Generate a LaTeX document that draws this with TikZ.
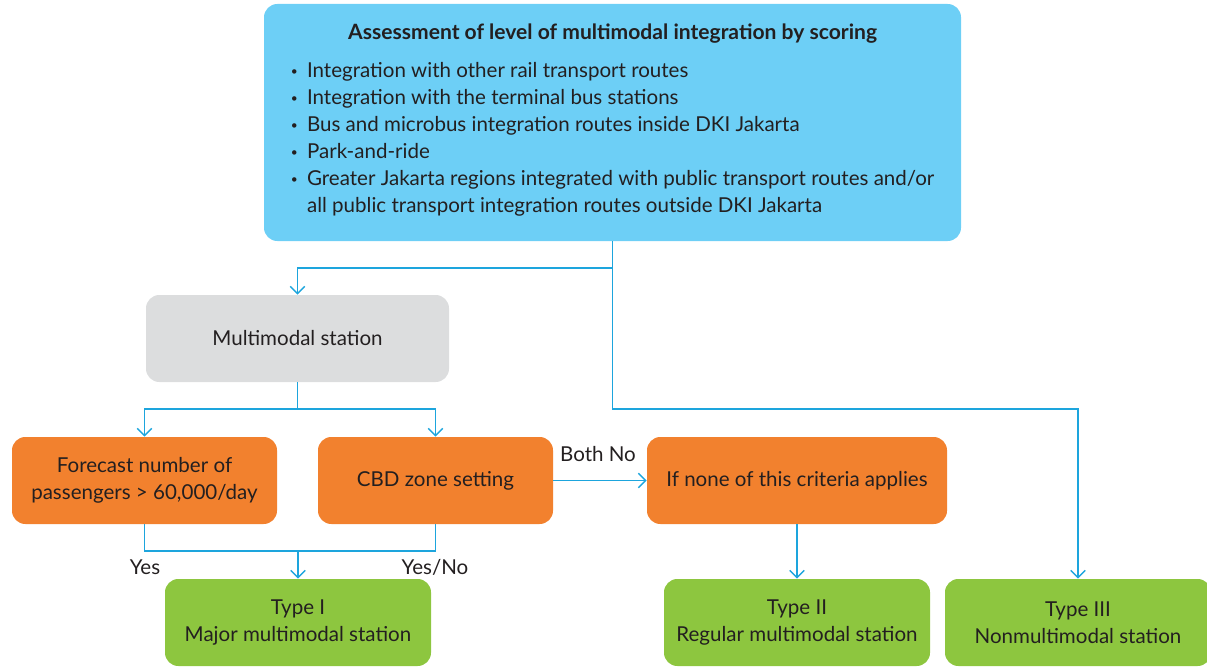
\documentclass[tikz,border=0pt]{standalone}
\usepackage{fontspec}
\setmainfont{Lato}
\usetikzlibrary{arrows.meta, positioning}
\definecolor{skyfill}{HTML}{6DCFF6}
\definecolor{greyfill}{HTML}{DCDDDE}
\definecolor{orangefill}{HTML}{F2812E}
\definecolor{greenfill}{HTML}{8DC63F}
\definecolor{wire}{HTML}{1DA5DD}
\definecolor{ink}{HTML}{231F20}
\newcommand{\dotitem}{\raisebox{1.5pt}{\fontsize{9}{9}\selectfont\textbullet}}
\begin{document}
\begin{tikzpicture}[x=0.75pt,y=-0.75pt]
\tikzset{box/.style = {shape=rectangle, rounded corners=10pt, inner sep=0pt, minimum height=65.25pt, align=center, text=ink, font=\fontsize{15.4}{20.25}\selectfont},
  assessbox/.style = {box, fill=skyfill, minimum width=522.75pt, minimum height=177.75pt},
  stationbox/.style = {box, fill=greyfill, minimum width=227.25pt},
  criterion/.style = {box, fill=orangefill},
  typebox/.style = {box, fill=greenfill, minimum width=199.5pt},
  lbl/.style = {text=ink, inner sep=0pt, font=\fontsize{15.4}{20.25}\selectfont},
  wireline/.style = {draw=wire, line width=1.1pt},
  link/.style = {wireline, -{Straight Barb[length=5.5pt,width=11pt]}}}
\useasboundingbox (0,0) rectangle (1207,667);
% boxes
\node[assessbox] (assess) at (612.5,122.5) {{\bfseries\fontsize{15.8}{20.25}\selectfont Assessment of level of multimodal integration by scoring}\\[8.25pt]
\begin{tabular}[t]{@{}l@{\hspace{7pt}}l@{}}
\dotitem & Integration with other rail transport routes\\
\dotitem & Integration with the terminal bus stations\\
\dotitem & Bus and microbus integration routes inside DKI Jakarta\\
\dotitem & Park-and-ride\\
\dotitem & Greater Jakarta regions integrated with public transport routes and/or\\
 & all public transport integration routes outside DKI Jakarta
\end{tabular}};
\node[stationbox] (station) at (297.5,338.5) {Multimodal station};
\node[criterion, minimum width=198.75pt] (forecast) at (144.5,480.5) {Forecast number of\\passengers > 60,000/day};
\node[criterion, minimum width=176.25pt] (cbd) at (435.5,480.5) {CBD zone setting};
\node[criterion, minimum width=225pt] (none) at (797,480.5) {If none of this criteria applies};
\node[typebox] (typei) at (298,622.5) {Type I\\Major multimodal station};
\node[typebox] (typeii) at (797,622.5) {Type II\\Regular multimodal station};
\node[typebox] (typeiii) at (1078,622.5) {Type III\\Nonmultimodal station};

% helper levels
\coordinate (upper) at (0,268);
\coordinate (bus) at (0,409);
\coordinate (join) at (0,551);
\coordinate (merge) at (typei.north |- join);

%edges
\draw[link] (assess.south) -- (assess.south |- upper) -| (station.north);
\draw[link] (assess.south) -- (assess.south |- bus) -| (typeiii.north);
\draw[link] (station.south) -- (station.south |- bus) -| (forecast.north);
\draw[link] (station.south |- bus) -| (cbd.north);
\draw[wireline] (forecast.south) |- (cbd.south |- join) -- (cbd.south);
\draw[link] (merge) -- (typei.north);
\draw[link] (cbd) -- (none);
\draw[link] (none) -- (typeii);

% labels
\node[lbl] (yes) at (145,567) {Yes};
\node[lbl] (yesno) at (435,567) {Yes/No};
\node[lbl] (bothno) at (598,454) {Both No};
\end{tikzpicture}
\end{document}
